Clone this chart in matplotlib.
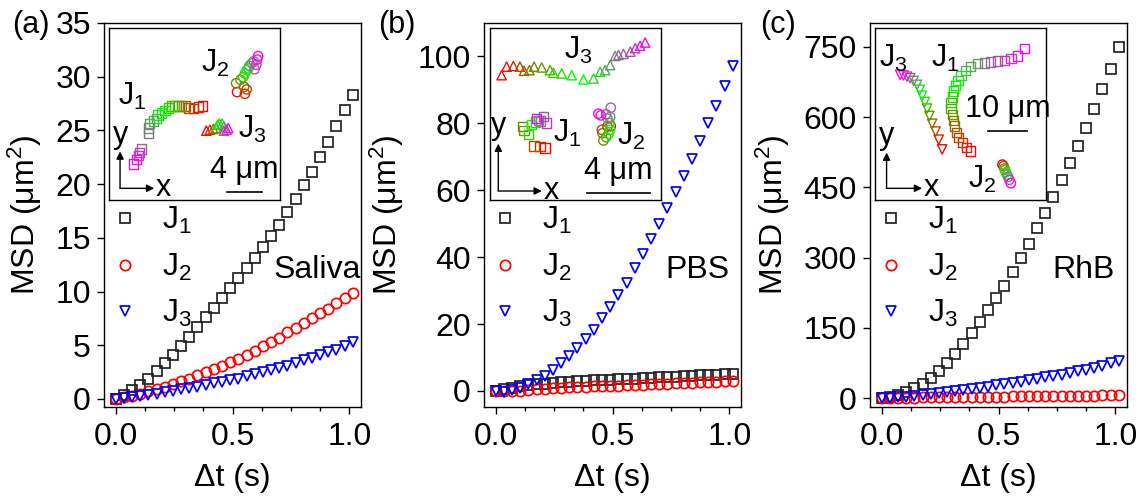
import numpy as np
import matplotlib
matplotlib.use('Agg')
from matplotlib import pyplot as plt
from matplotlib.colors import LinearSegmentedColormap
from matplotlib.ticker import MultipleLocator

plt.rcParams['font.family'] = ['Liberation Sans', 'DejaVu Sans']
plt.rcParams['mathtext.fontset'] = 'custom'
plt.rcParams['mathtext.rm'] = 'Liberation Sans'
plt.rcParams['mathtext.it'] = 'Liberation Sans:italic'

# time lag (s)
t = [0.000, 0.035, 0.070, 0.105, 0.140, 0.175, 0.210, 0.245, 0.280, 0.315,
     0.350, 0.385, 0.420, 0.455, 0.490, 0.525, 0.560, 0.595, 0.630, 0.665,
     0.700, 0.735, 0.770, 0.805, 0.840, 0.875, 0.910, 0.945, 0.980, 1.015]

# (a) saliva
saliva_j1 = [0, 0.35, 0.8, 1.3, 1.9, 2.6, 3.3, 4.1, 4.9, 5.8,
             6.7, 7.6, 8.5, 9.4, 10.3, 11.3, 12.2, 13.1, 14.1, 15.2,
             16.2, 17.4, 18.6, 19.9, 21.1, 22.5, 23.9, 25.4, 26.9, 28.3]
saliva_j2 = [0, 0.15, 0.3, 0.5, 0.7, 0.9, 1.15, 1.4, 1.65, 1.9,
             2.2, 2.5, 2.8, 3.1, 3.4, 3.75, 4.1, 4.5, 4.9, 5.3,
             5.7, 6.2, 6.6, 7.1, 7.5, 8.0, 8.4, 8.9, 9.4, 9.9]
saliva_j3 = [0, 0.05, 0.15, 0.25, 0.35, 0.5, 0.6, 0.75, 0.9, 1.0,
             1.15, 1.3, 1.45, 1.6, 1.75, 1.9, 2.1, 2.3, 2.5, 2.7,
             2.9, 3.1, 3.35, 3.6, 3.85, 4.1, 4.35, 4.6, 4.95, 5.3]

# (b) PBS
pbs_j1 = [0, 0.5, 1.0, 1.4, 1.7, 2.0, 2.2, 2.4, 2.6, 2.8,
          2.9, 3.0, 3.2, 3.3, 3.4, 3.5, 3.6, 3.7, 3.8, 3.95,
          4.05, 4.15, 4.3, 4.4, 4.5, 4.65, 4.8, 4.9, 5.0, 5.1]
pbs_j2 = [0, 0, -0.1, 0.1, 0.3, 0.5, 0.7, 0.85, 1.0, 1.1,
          1.2, 1.3, 1.4, 1.5, 1.55, 1.6, 1.7, 1.8, 1.9, 2.0,
          2.1, 2.2, 2.3, 2.4, 2.5, 2.6, 2.7, 2.8, 2.95, 3.1]
pbs_j3 = [0, -0.3, 0.2, 1.0, 2.0, 3.2, 4.5, 6.3, 8.3, 10.3,
          12.8, 15.5, 18.3, 21.8, 25.2, 28.7, 32.4, 36.8, 41.0, 45.4,
          50.0, 54.7, 59.4, 64.4, 69.4, 74.6, 80.0, 85.3, 91.1, 97.1]

# (c) RhB
rhb_j1 = [0, 2, 6, 13, 21, 31, 43, 57, 74, 94,
          116, 139, 163, 188, 213, 240, 269, 299, 330, 363,
          396, 430, 466, 502, 538, 577, 617, 659, 702, 750]
rhb_j2 = [0, 0.3, 0.6, 0.9, 1.1, 1.3, 1.5, 1.7, 1.9, 2.1,
          2.3, 2.5, 2.7, 2.9, 3.1, 3.3, 3.5, 3.7, 3.9, 4.1,
          4.3, 4.5, 4.7, 4.9, 5.0, 5.2, 5.4, 5.6, 5.8, 6.0]
rhb_j3 = [0, 0.5, 1.5, 3, 4.5, 6, 8, 10, 12, 14.5,
          17, 19.5, 22, 24.5, 27, 29.5, 32, 35, 38, 41,
          44, 47, 50, 53, 57, 61, 65, 69.5, 74.5, 80]

# trajectories in the insets (um)
sal_tr1_x = [10.7, 10.2, 9.6, 9.1, 8.7, 8.3, 7.9, 7.5, 7.2, 6.8, 6.4, 6.0,
             5.6, 5.4, 5.1, 4.6, 4.5, 4.5, 3.7, 3.5, 3.4, 3.1, 2.8]
sal_tr1_y = [10.7, 10.6, 10.4, 10.5, 10.7, 10.7, 10.7, 10.7, 10.7, 10.5, 10.2, 9.9,
             9.7, 9.3, 9.0, 8.7, 8.2, 7.6, 5.8, 5.4, 5.1, 4.6, 4.1]
sal_tr2_x = [14.6, 15.5, 15.7, 15.4, 14.5, 15.0, 15.3, 15.5, 15.7, 15.9, 16.0, 16.3,
             16.5, 16.6, 16.8, 16.9, 17.0]
sal_tr2_y = [12.3, 12.1, 12.6, 12.9, 13.3, 13.7, 14.0, 14.4, 14.8, 15.0, 15.3, 15.6,
             15.8, 14.9, 15.4, 16.0, 16.4]
sal_tr3_x = [11.1, 11.5, 11.9, 12.2, 12.4, 12.6, 12.9, 13.1, 13.1, 13.4, 13.6]
sal_tr3_y = [7.9, 8.0, 8.1, 8.2, 8.6, 8.7, 8.7, 8.4, 7.9, 8.0, 8.2]

pbs_tr1_x = [3.51, 3.19, 2.81, 2.09, 2.17, 2.45, 2.66, 2.91, 3.09, 3.23, 3.40, 3.62, 2.98]
pbs_tr1_y = [3.30, 3.40, 3.43, 4.66, 4.40, 4.13, 4.79, 4.94, 5.04, 5.00, 5.30, 4.87, 5.15]
pbs_tr2_x = [7.70, 7.49, 7.13, 7.17, 7.23, 7.40, 7.57, 7.66, 7.62, 7.49, 7.66, 7.70,
             7.40, 7.06, 6.91]
pbs_tr2_y = [4.68, 4.66, 4.45, 4.23, 3.77, 3.98, 4.19, 4.45, 4.87, 5.15, 5.26, 5.85,
             5.43, 5.36, 5.47]
pbs_tr3_x = [0.74, 1.06, 1.49, 1.91, 2.17, 2.51, 2.81, 3.30, 3.83, 4.04, 4.57, 5.21,
             5.96, 6.60, 7.02, 7.34, 7.66, 7.98, 8.19, 8.51, 8.94, 9.26, 9.57, 9.89]
pbs_tr3_y = [7.91, 8.45, 8.49, 8.45, 8.19, 8.23, 8.45, 8.40, 8.23, 8.06, 8.02, 7.91,
             7.64, 7.70, 8.13, 8.23, 8.55, 9.13, 9.19, 9.26, 9.40, 9.62, 9.77, 9.98]

rhb_tr1_x = [24.8, 23.7, 22.6, 21.7, 21.1, 20.6, 20.3, 20.0, 19.7, 19.7, 20.0, 20.4,
             20.9, 21.5, 22.3, 23.5, 24.8, 26.5, 28.3, 30.0, 31.7, 33.5, 35.2, 37.0, 38.7]
rhb_tr1_y = [12.6, 13.5, 14.8, 16.1, 17.4, 19.0, 20.4, 21.9, 23.5, 25.0, 26.5, 28.0,
             29.4, 30.7, 32.0, 33.2, 34.3, 35.0, 35.2, 35.5, 35.7, 35.9, 36.3, 37.0, 39.0]
rhb_tr2_x = [33.0, 33.3, 33.5, 33.7, 33.9, 34.2, 34.5, 34.8, 35.2]
rhb_tr2_y = [9.1, 8.7, 8.1, 7.7, 7.1, 6.5, 5.9, 5.2, 4.3]
rhb_tr3_x = [17.4, 16.5, 15.7, 14.8, 14.1, 13.5, 12.9, 12.2, 11.6, 10.9, 10.0, 9.1,
             8.3, 7.4, 6.5]
rhb_tr3_y = [13.0, 15.5, 17.6, 19.6, 21.6, 23.5, 25.2, 26.8, 28.3, 29.6, 30.6, 31.3,
             31.7, 32.0, 32.2]

labels = [r'$\mathregular{J_1}$', r'$\mathregular{J_2}$', r'$\mathregular{J_3}$']
cmap = LinearSegmentedColormap.from_list('traj', ['red', 'lime', 'magenta'])

FS = 23
IFS = 22

fig = plt.figure(figsize=(11.44, 4.99), dpi=100)

panels = [
    dict(left=104, tag='(a)', tagx=12, medium='Saliva', ys=[saliva_j1, saliva_j2, saliva_j3],
         ylim=(-0.75, 35), yticks=np.arange(0, 36, 5), inset_left=109, inset_w=19.5, inset_h=19.6,
         tr=[(sal_tr1_x, sal_tr1_y), (sal_tr2_x, sal_tr2_y), (sal_tr3_x, sal_tr3_y)],
         tlab=[(2.6, 11.8), (12.1, 15.6), (16.3, 8.0)], bar=(13.4, 17.4, 0.95), bartext='4 μm',
         ax0=(1.26, 1.33), axlen=3.9, axlen_y=4.2),
    dict(left=484, tag='(b)', tagx=378, medium='PBS', ys=[pbs_j1, pbs_j2, pbs_j3],
         ylim=(-4.8, 110), yticks=np.arange(0, 101, 20), inset_left=490, inset_w=10.9, inset_h=10.9,
         tr=[(pbs_tr1_x, pbs_tr1_y), (pbs_tr2_x, pbs_tr2_y), (pbs_tr3_x, pbs_tr3_y)],
         tlab=[(4.9, 4.2), (9.0, 4.0), (5.6, 9.5)], bar=(6.2, 10.2, 0.47), bartext='4 μm',
         ax0=(0.53, 0.57), axlen=2.77, axlen_y=3.0),
    dict(left=870, tag='(c)', tagx=760, medium='RhB', ys=[rhb_j1, rhb_j2, rhb_j3],
         ylim=(-19, 801), yticks=np.arange(0, 751, 150), inset_left=875, inset_w=44.3, inset_h=44.2,
         tr=[(rhb_tr1_x, rhb_tr1_y), (rhb_tr2_x, rhb_tr2_y), (rhb_tr3_x, rhb_tr3_y)],
         tlab=[(18.3, 36.5), (27.8, 5.2), (4.8, 36.5)], bar=(29.4, 39.4, 17.8), bartext='10 μm',
         ax0=(3.0, 3.0), axlen=9.2, axlen_y=9.2),
]

styles = [dict(marker='s', color='#222222'), dict(marker='o', color='red'), dict(marker='v', color='blue')]
tr_markers = ['s', 'o', '^']
tr_markers_c = ['s', 'o', 'v']

W, H = 1144, 499
for k, p in enumerate(panels):
    ax = fig.add_axes([p['left'] / W, (H - 407) / H, 257 / W, 384 / H])
    for ys, st, lab in zip(p['ys'], styles, labels):
        ax.plot(t, ys, ls='none', marker=st['marker'], ms=7.4, mew=1.25,
                mec=st['color'], mfc='none', label=lab)
    ax.set_xlim(-0.05, 1.05)
    ax.set_ylim(*p['ylim'])
    ax.set_xticks([0, 0.5, 1.0])
    ax.set_xticklabels(['0.0', '0.5', '1.0'])
    ax.xaxis.set_minor_locator(MultipleLocator(0.125))
    ax.set_yticks(p['yticks'])
    ax.tick_params(axis='both', which='major', direction='out', length=5, width=1,
                   labelsize=FS, top=False, right=False)
    ax.tick_params(axis='y', pad=4.5)
    ax.tick_params(axis='x', pad=6)
    ax.tick_params(axis='x', which='minor', direction='out', length=3, width=1, top=False)
    for s in ax.spines.values():
        s.set_linewidth(1.0)
    ax.set_xlabel('Δt (s)', fontsize=FS, labelpad=8)
    ax.set_ylabel('MSD (μm$^{2}$)', fontsize=FS, labelpad=8)
    ax.legend(loc='upper left', bbox_to_anchor=(0.02, 0.525), frameon=False,
              fontsize=FS, handlelength=1.0, handletextpad=0.65,
              labelspacing=0.48, borderaxespad=0, borderpad=0)
    ax.text(0.83, 0.357, p['medium'], transform=ax.transAxes, fontsize=FS,
            ha='center', va='center')
    fig.text(p['tagx'] / W, 1 - 25 / H, p['tag'], fontsize=FS - 1, ha='left', va='center')

    # inset trajectory
    ia = fig.add_axes([p['inset_left'] / W, (H - 200) / H, 171 / W, 172 / H])
    ia.set_xlim(0, p['inset_w'])
    ia.set_ylim(0, p['inset_h'])
    ia.set_xticks([])
    ia.set_yticks([])
    for s in ia.spines.values():
        s.set_linewidth(1.0)
    mk = tr_markers_c if k == 2 else tr_markers
    for (tx, ty), m in zip(p['tr'], mk):
        cols = cmap(np.linspace(0, 1, len(tx)))
        ia.scatter(tx, ty, s=45, marker=m, facecolors='none', edgecolors=cols, linewidths=1.0)
    for (lx, ly), lab in zip(p['tlab'], labels):
        ia.text(lx, ly, lab, fontsize=IFS, ha='center', va='center')
    x0, x1, yb = p['bar']
    ia.plot([x0, x1], [yb, yb], color='black', lw=1.2)
    ia.text((x0 + x1) / 2, yb + p['inset_h'] * 0.04, p['bartext'], fontsize=IFS,
            ha='center', va='bottom')
    ox, oy = p['ax0']
    arr = dict(arrowstyle='-|>', color='black', lw=1.0, mutation_scale=11, shrinkA=0, shrinkB=0)
    ia.annotate('', xy=(ox + p['axlen'], oy), xytext=(ox, oy), arrowprops=arr)
    ia.annotate('', xy=(ox, oy + p['axlen_y']), xytext=(ox, oy), arrowprops=arr)
    ia.text(ox + p['axlen'] * 1.05, oy, 'x', fontsize=IFS, ha='left', va='center')
    ia.text(ox, oy + p['axlen_y'] * 1.05, 'y', fontsize=IFS, ha='center', va='bottom')

fig.savefig('out.png', dpi=100)
